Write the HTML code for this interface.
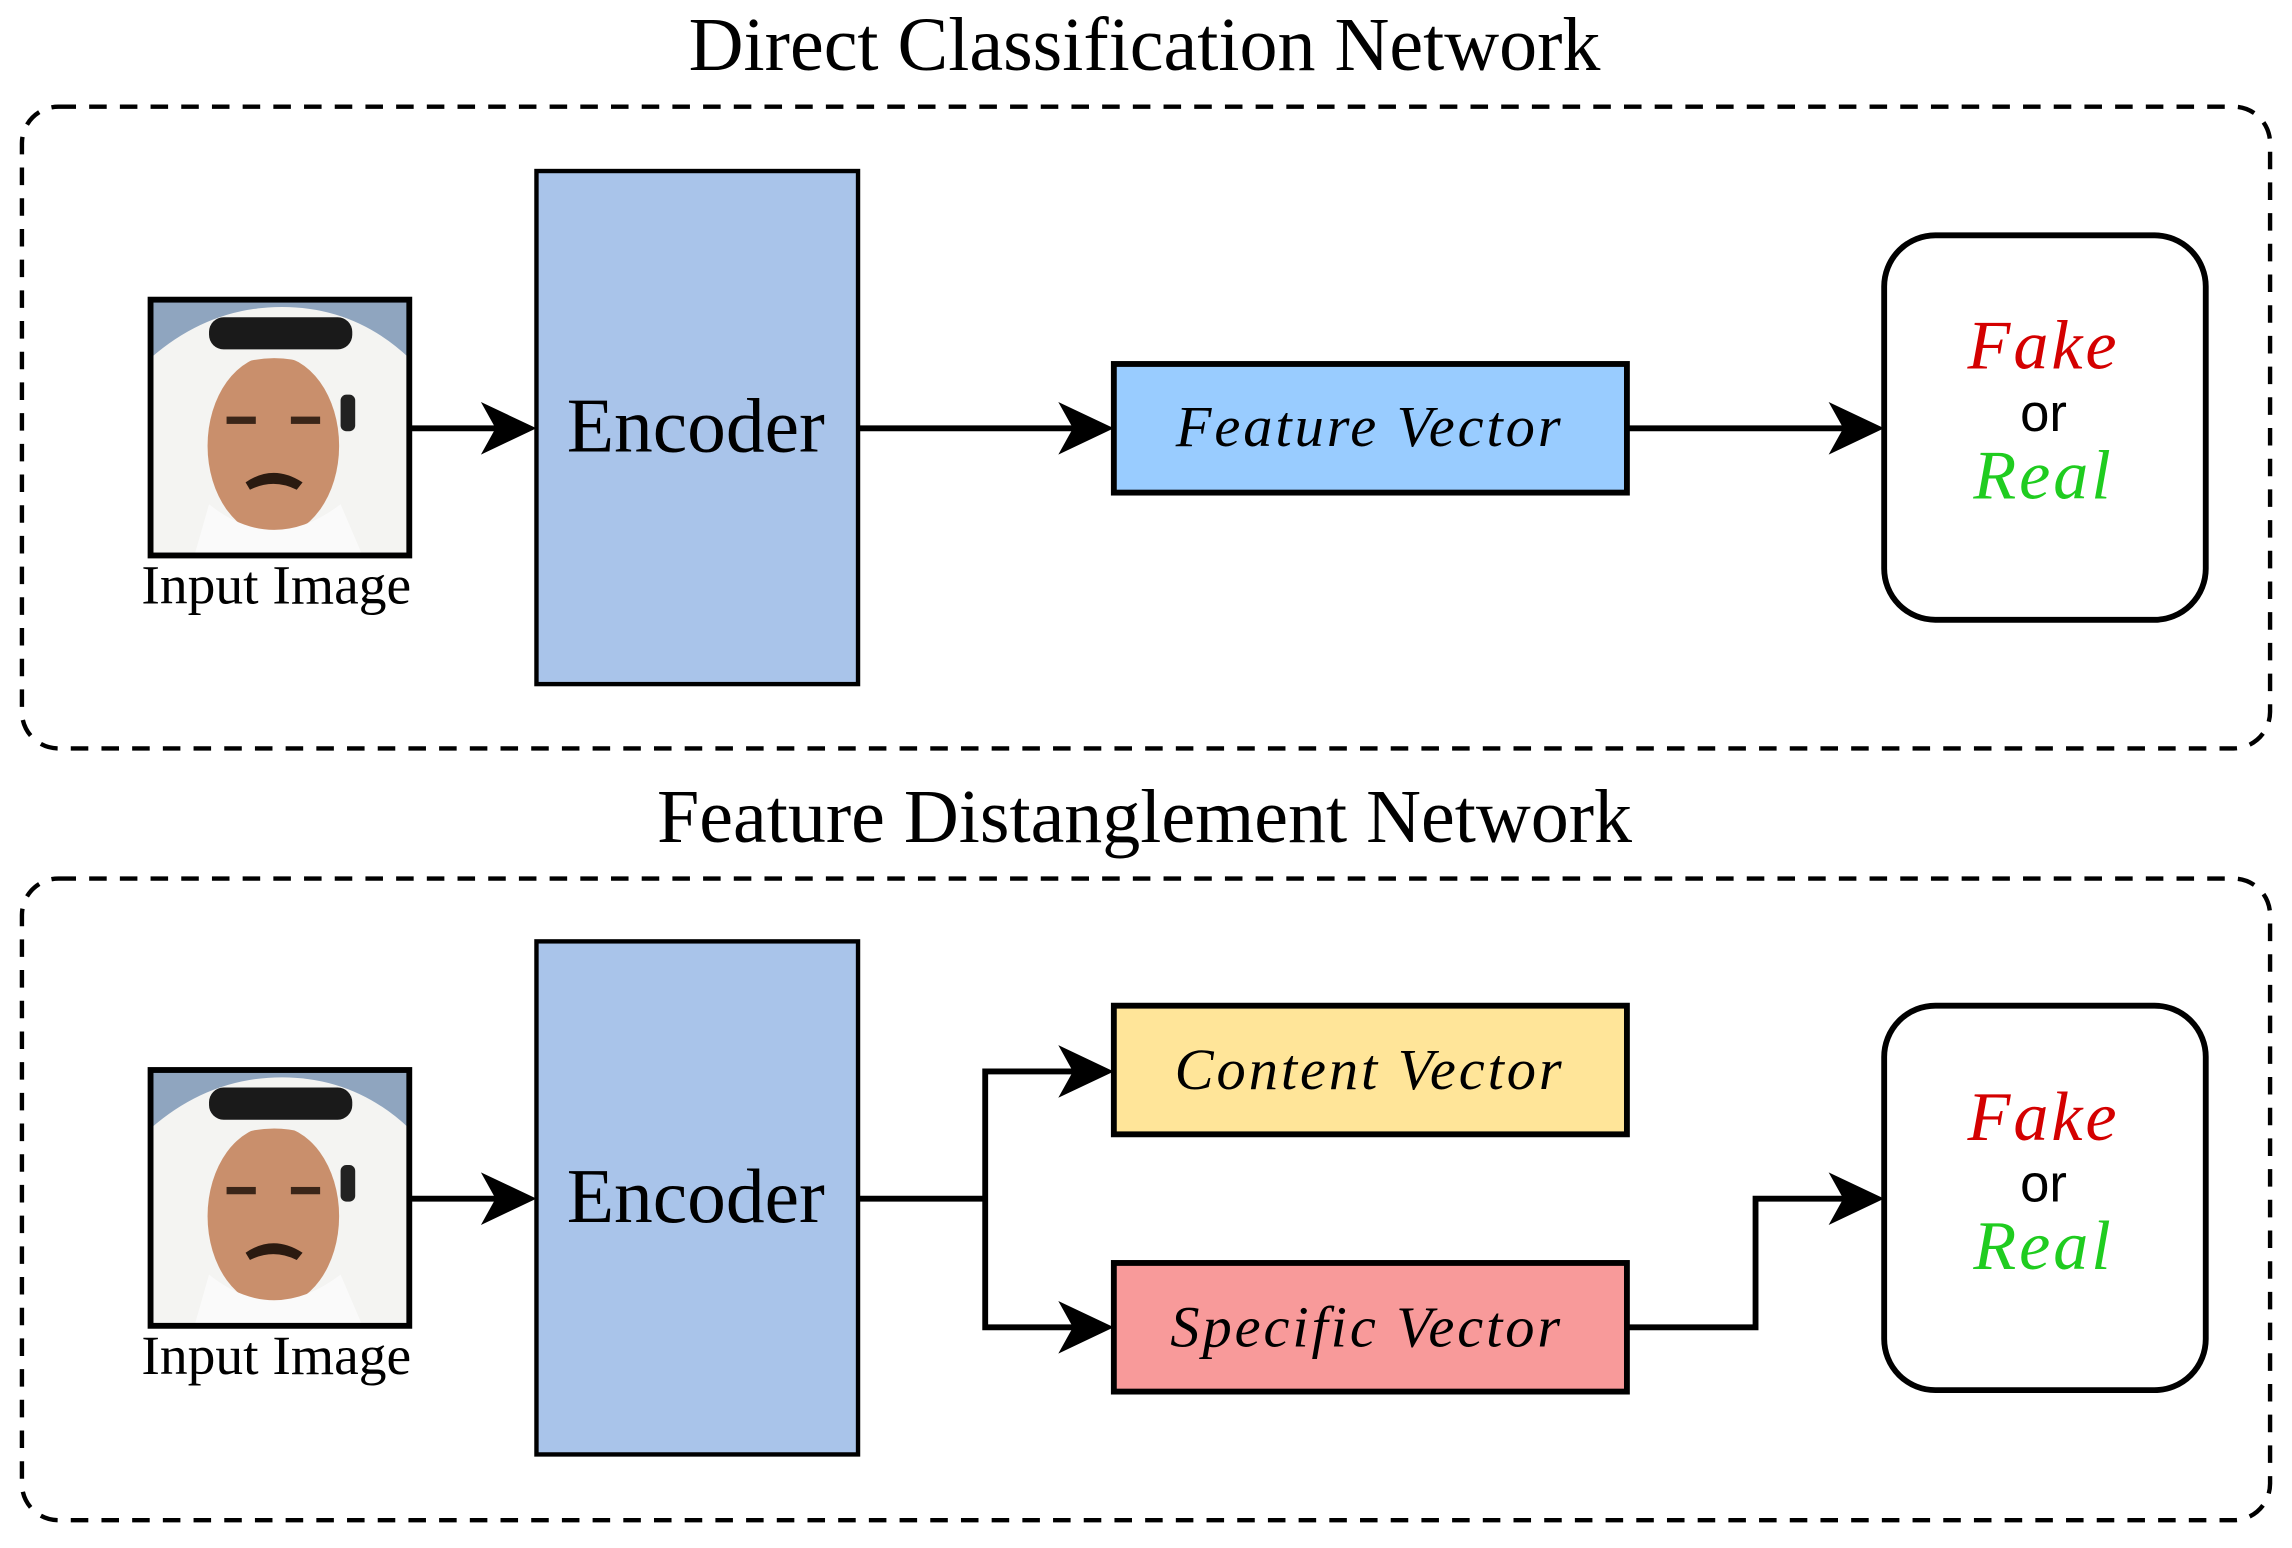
<!DOCTYPE html>
<html><head><meta charset="utf-8"><style>
html,body{margin:0;padding:0;background:#fff;}
svg{display:block;}
.serif{font-family:"Liberation Serif",serif;}
.it{font-family:"Liberation Serif",serif;font-style:italic;}
.sans{font-family:"Liberation Sans",sans-serif;}
</style></head><body>
<svg width="2292" height="1548" viewBox="0 0 1568 1059" preserveAspectRatio="none" xmlns="http://www.w3.org/2000/svg">
<defs>
<g id="face">
  <rect x="0" y="0" width="177" height="175" fill="#8fa5bf"/>
  <path d="M0 40 Q40 5 90 5 Q140 5 177 40 L177 175 L0 175 Z" fill="#f4f4f2"/>
  <ellipse cx="84" cy="100" rx="45" ry="62" fill="#c98f6c"/>
  <path d="M30 60 Q84 20 140 60 L140 50 Q84 10 30 50 Z" fill="#f4f4f2"/>
  <rect x="40" y="12" width="98" height="22" rx="10" fill="#1a1a1a"/>
  <path d="M30 175 L40 140 Q84 175 130 140 L145 175 Z" fill="#fafafa"/>
  <rect x="52" y="80" width="20" height="5" fill="#3a2518"/>
  <rect x="96" y="80" width="20" height="5" fill="#3a2518"/>
  <path d="M65 125 Q84 112 104 125 L100 130 Q84 122 68 130 Z" fill="#2a1a10"/>
  <rect x="130" y="65" width="10" height="25" rx="4" fill="#222"/>
</g>
<g id="arr"><path d="M0 0 L-38 -18 L-28 0 L-38 18 Z" fill="#000"/></g>
</defs>

<text x="783" y="48" class="serif" font-size="52" text-anchor="middle">Direct Classification Network</text>
<rect x="15" y="73" width="1538" height="439" rx="25" fill="none" stroke="#000" stroke-width="3" stroke-dasharray="12 9"/>
<g transform="translate(103,205)"><use href="#face"/></g>
<rect x="103" y="205" width="177" height="175" fill="none" stroke="#000" stroke-width="4"/>
<text x="189" y="413" class="serif" font-size="38" text-anchor="middle">Input Image</text>
<line x1="280" y1="293" x2="340" y2="293" stroke="#000" stroke-width="4"/>
<use href="#arr" x="367" y="293"/>
<rect x="367" y="117" width="220" height="351" fill="#a9c4ea" stroke="#000" stroke-width="3"/>
<text x="476" y="309" class="serif" font-size="53" text-anchor="middle">Encoder</text>
<line x1="587" y1="293" x2="735" y2="293" stroke="#000" stroke-width="4"/>
<use href="#arr" x="762" y="293"/>
<rect x="762" y="249" width="351" height="88" fill="#99ccff" stroke="#000" stroke-width="4"/>
<text x="937" y="305" class="it" font-size="40" letter-spacing="2" text-anchor="middle">Feature Vector</text>
<line x1="1113" y1="293" x2="1262" y2="293" stroke="#000" stroke-width="4"/>
<use href="#arr" x="1289" y="293"/>
<rect x="1289" y="161" width="220" height="263" rx="35" fill="#fff" stroke="#000" stroke-width="4"/>
<text x="1398" y="252" class="it" font-size="48" letter-spacing="2" fill="#d40000" text-anchor="middle">Fake</text>
<text x="1398" y="295" class="sans" font-size="36" text-anchor="middle">or</text>
<text x="1398" y="341" class="it" font-size="48" letter-spacing="2" fill="#1fcc1f" text-anchor="middle">Real</text>

<text x="783" y="576" class="serif" font-size="52" text-anchor="middle">Feature Distanglement Network</text>
<rect x="15" y="601" width="1538" height="439" rx="25" fill="none" stroke="#000" stroke-width="3" stroke-dasharray="12 9"/>
<g transform="translate(103,732)"><use href="#face"/></g>
<rect x="103" y="732" width="177" height="175" fill="none" stroke="#000" stroke-width="4"/>
<text x="189" y="940" class="serif" font-size="38" text-anchor="middle">Input Image</text>
<line x1="280" y1="820" x2="340" y2="820" stroke="#000" stroke-width="4"/>
<use href="#arr" x="367" y="820"/>
<rect x="367" y="644" width="220" height="351" fill="#a9c4ea" stroke="#000" stroke-width="3"/>
<text x="476" y="836" class="serif" font-size="53" text-anchor="middle">Encoder</text>
<polyline points="587,820 674,820" fill="none" stroke="#000" stroke-width="4"/>
<polyline points="735,733 674,733 674,908 735,908" fill="none" stroke="#000" stroke-width="4"/>
<use href="#arr" x="762" y="733"/>
<use href="#arr" x="762" y="908"/>
<rect x="762" y="688" width="351" height="88" fill="#ffe599" stroke="#000" stroke-width="4"/>
<text x="937" y="745" class="it" font-size="40" letter-spacing="2" text-anchor="middle">Content Vector</text>
<rect x="762" y="864" width="351" height="88" fill="#f89a9a" stroke="#000" stroke-width="4"/>
<text x="935" y="921" class="it" font-size="40" letter-spacing="2" text-anchor="middle">Specific Vector</text>
<polyline points="1113,908 1201,908 1201,820 1262,820" fill="none" stroke="#000" stroke-width="4"/>
<use href="#arr" x="1289" y="820"/>
<rect x="1289" y="688" width="220" height="263" rx="35" fill="#fff" stroke="#000" stroke-width="4"/>
<text x="1398" y="780" class="it" font-size="48" letter-spacing="2" fill="#d40000" text-anchor="middle">Fake</text>
<text x="1398" y="822" class="sans" font-size="36" text-anchor="middle">or</text>
<text x="1398" y="868" class="it" font-size="48" letter-spacing="2" fill="#1fcc1f" text-anchor="middle">Real</text>
</svg>
</body></html>
